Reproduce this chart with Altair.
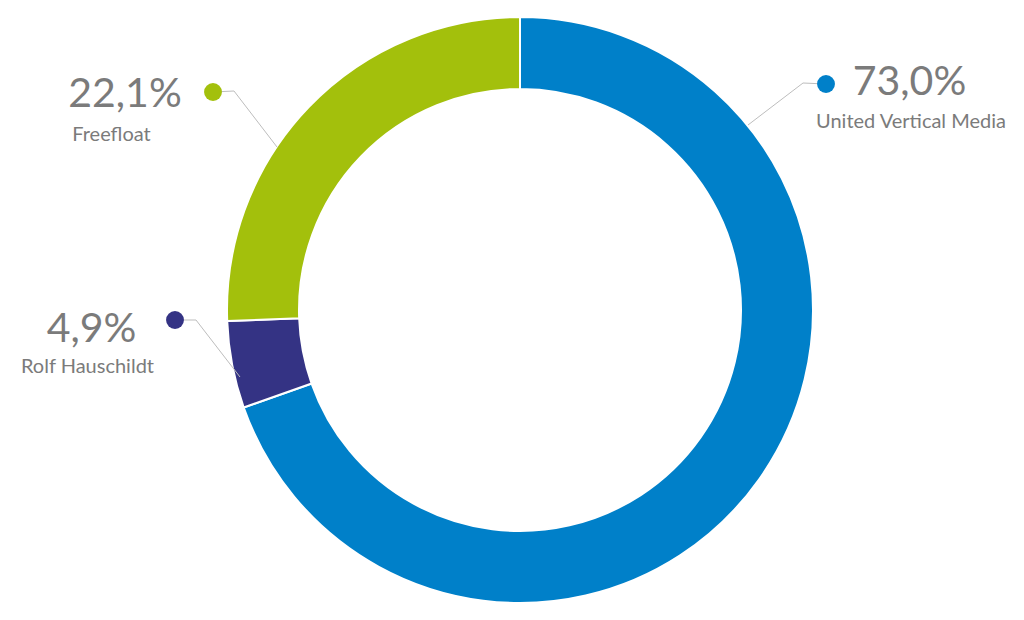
import altair as alt
import pandas as pd

# ---- data ----
categories = ["United Vertical Media", "Rolf Hauschildt", "Freefloat"]
pct_labels = ["73,0%", "4,9%", "22,1%"]
arc_shares = [69.6, 4.8, 25.6]          # slice sizes as drawn in the reference ring
colors = ["#0080c9", "#343384", "#a3c00c"]

# ---- annotation layout (chart pixel coordinates) ----
dot_x = [818, 167, 205]
dot_y = [76, 312, 84]
elbow_x = [795, 188, 226]
elbow_y = [75, 312, 83]
ring_x = [740, 232, 269]
ring_y = [117, 369, 139]
pct_x = [901.5, 83.5, 117]
pct_y = [87, 334, 99]
name_x = [903, 79.5, 103.5]
name_y = [120, 365, 133]

W, H = 1008, 604
CX, CY = 512, 302

slices = pd.DataFrame({"cat": categories, "share": arc_shares, "idx": list(range(len(categories)))})

lines_rows = []
for i, c in enumerate(categories):
    lines_rows.append({"cat": c, "o": 0, "x": dot_x[i], "y": dot_y[i]})
    lines_rows.append({"cat": c, "o": 1, "x": elbow_x[i], "y": elbow_y[i]})
    lines_rows.append({"cat": c, "o": 2, "x": ring_x[i], "y": ring_y[i]})
lines_df = pd.DataFrame(lines_rows)

ann = pd.DataFrame({
    "cat": categories, "pct": pct_labels,
    "dx": dot_x, "dy": dot_y,
    "px": pct_x, "py": pct_y,
    "nx": name_x, "ny": name_y,
})

xs = alt.Scale(domain=[0, W], range=[0, W])
ys = alt.Scale(domain=[0, H], range=[0, H])
cs = alt.Scale(domain=categories, range=colors)

ring = alt.Chart(slices).mark_arc(
    innerRadius=221, outerRadius=293, stroke="white", strokeWidth=2
).encode(
    theta=alt.Theta("share:Q", stack=True),
    color=alt.Color("cat:N", scale=cs, legend=None),
    order=alt.Order("idx:Q"),
    x=alt.value(CX), y=alt.value(CY),
)

leaders = alt.Chart(lines_df).mark_line(color="#bdbdbd", strokeWidth=1).encode(
    x=alt.X("x:Q", scale=xs, axis=None),
    y=alt.Y("y:Q", scale=ys, axis=None),
    detail="cat:N",
    order="o:Q",
)

dots = alt.Chart(ann).mark_circle(size=320, opacity=1).encode(
    x=alt.X("dx:Q", scale=xs, axis=None),
    y=alt.Y("dy:Q", scale=ys, axis=None),
    color=alt.Color("cat:N", scale=cs, legend=None),
)

pct_text = alt.Chart(ann).mark_text(
    font="Lato", fontSize=41, color="#7b7b7b", align="center", baseline="alphabetic"
).encode(
    x=alt.X("px:Q", scale=xs, axis=None),
    y=alt.Y("py:Q", scale=ys, axis=None),
    text="pct:N",
)

name_text = alt.Chart(ann).mark_text(
    font="Lato", fontSize=20, color="#7b7b7b", align="center", baseline="alphabetic"
).encode(
    x=alt.X("nx:Q", scale=xs, axis=None),
    y=alt.Y("ny:Q", scale=ys, axis=None),
    text="cat:N",
)

chart = alt.layer(ring, leaders, dots, pct_text, name_text).properties(
    width=W, height=H, padding=0, autosize="none", background="white"
).configure_view(stroke=None)

chart.save("out.html", embed_options={"renderer": "svg", "actions": False})
